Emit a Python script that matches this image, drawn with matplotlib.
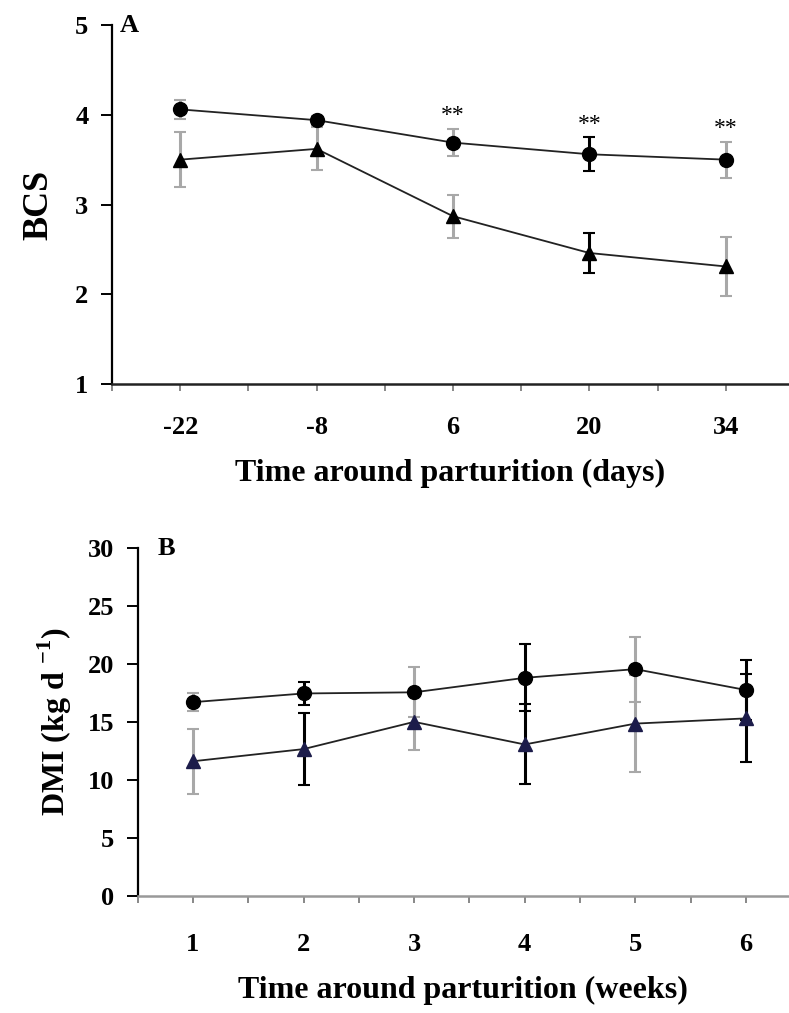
import numpy as np
import matplotlib
matplotlib.use("Agg")
import matplotlib.pyplot as plt

plt.rcParams['font.family'] = ['Liberation Serif', 'DejaVu Serif']
plt.rcParams['font.weight'] = 'bold'
plt.rcParams['axes.labelweight'] = 'bold'
plt.rcParams['mathtext.fontset'] = 'custom'
plt.rcParams['mathtext.rm'] = 'Liberation Serif:bold'
plt.rcParams['mathtext.bf'] = 'Liberation Serif:bold'

# Panel A: body condition score
days = [-22, -8, 6, 20, 34]
bcs_circle = [4.06, 3.94, 3.69, 3.56, 3.50]
bcs_circle_err = [0.11, 0.05, 0.15, 0.19, 0.20]
bcs_tri = [3.50, 3.62, 2.87, 2.46, 2.31]
bcs_tri_err = [0.31, 0.24, 0.24, 0.22, 0.33]
bcs_err_col = ['#a8a8a8', '#a8a8a8', '#a8a8a8', 'black', '#a8a8a8']
sig_days = [6, 20, 34]

# Panel B: dry matter intake
weeks = [1, 2, 3, 4, 5, 6]
dmi_circle = [16.7, 17.45, 17.55, 18.8, 19.55, 17.75]
dmi_circle_err = [0.8, 1.0, 2.15, 2.9, 2.8, 2.55]
dmi_tri = [11.6, 12.65, 15.0, 13.05, 14.85, 15.3]
dmi_tri_err = [2.8, 3.1, 2.4, 3.45, 4.2, 3.8]
dmi_err_col = ['#a8a8a8', 'black', '#a8a8a8', 'black', '#a8a8a8', 'black']

fig = plt.figure(figsize=(7.89, 10.13), dpi=100)
axA = fig.add_axes([0.142, 0.6209, 0.858, 0.3544])
axB = fig.add_axes([0.1745, 0.1158, 0.8255, 0.3432])


def draw(ax, x, yc, ec, yt, et, cols, tri_col):
    for xi, y, e, c in zip(x, yt, et, cols):
        ax.errorbar(xi, y, yerr=e, fmt='none', ecolor=c, elinewidth=2.2,
                    capsize=4, capthick=1.5, zorder=2)
    for xi, y, e, c in zip(x, yc, ec, cols):
        ax.errorbar(xi, y, yerr=e, fmt='none', ecolor=c, elinewidth=2.2,
                    capsize=4, capthick=1.5, zorder=2)
    ax.plot(x, yt, '-', color='#222222', lw=1.3, marker='^', ms=10,
            mfc=tri_col, mec=tri_col, zorder=3)
    ax.plot(x, yc, '-', color='#222222', lw=1.3, marker='o', ms=10,
            mfc='black', mec='black', zorder=3)


def style(ax, xaxis_col, xpad):
    for s in ['top', 'right']:
        ax.spines[s].set_visible(False)
    ax.spines['left'].set_linewidth(1.6)
    ax.spines['bottom'].set_linewidth(1.8)
    ax.spines['bottom'].set_color(xaxis_col)
    ax.tick_params(axis='y', direction='out', length=8, width=1.4,
                   labelsize=19, pad=9)
    ax.tick_params(axis='x', direction='out', length=5, width=1.4,
                   colors='#888888', labelcolor='black', labelsize=19,
                   pad=xpad)


# ---- A ----
draw(axA, days, bcs_circle, bcs_circle_err, bcs_tri, bcs_tri_err,
     bcs_err_col, 'black')
for d in sig_days:
    i = days.index(d)
    axA.text(d, bcs_circle[i] + bcs_circle_err[i] + 0.03, '**',
             ha='center', va='bottom', fontsize=17, fontweight='normal')
axA.set_xlim(-29, 40.5)
axA.set_ylim(1, 5)
axA.set_yticks([1, 2, 3, 4, 5])
xt = np.arange(-29, 41, 7)
axA.set_xticks(xt)
axA.set_xticklabels([str(v) if v in days else '' for v in xt])
style(axA, '#222222', 18)
axA.set_ylabel('BCS', fontsize=26, labelpad=14)
axA.set_xlabel('Time around parturition (days)', fontsize=23, labelpad=14)
axA.text(0.012, 1.0, 'A', transform=axA.transAxes, fontsize=19,
         ha='left', va='center')

# ---- B ----
draw(axB, weeks, dmi_circle, dmi_circle_err, dmi_tri, dmi_tri_err,
     dmi_err_col, '#1c1c4a')
axB.set_xlim(0.5, 6.39)
axB.set_ylim(0, 30)
axB.set_yticks(np.arange(0, 31, 5))
xtB = np.arange(0.5, 6.4, 0.5)
axB.set_xticks(xtB)
axB.set_xticklabels([str(int(v)) if v in weeks else '' for v in xtB])
style(axB, '#999999', 22)
axB.set_ylabel('DMI (kg d $^{\\mathbf{-1}}$)', fontsize=23, labelpad=10)
axB.set_xlabel('Time around parturition (weeks)', fontsize=23, labelpad=14)
axB.text(0.03, 1.0, 'B', transform=axB.transAxes, fontsize=19,
         ha='left', va='center')

fig.savefig('out.png', dpi=100)
